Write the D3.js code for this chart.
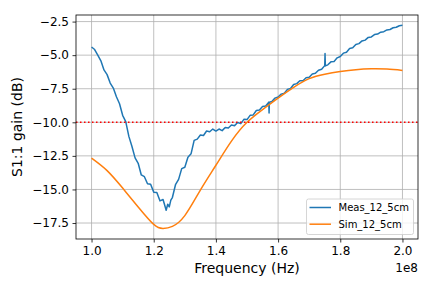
<!DOCTYPE html>
<html><head><meta charset="utf-8">
<script src="https://cdn.jsdelivr.net/npm/d3@7"></script>
<style>body{margin:0;background:#fff}svg{display:block;font-family:"DejaVu Sans",sans-serif}</style>
</head><body><svg id="c" width="432" height="288"></svg>
<script>
const xTicks = [1.0, 1.2, 1.4, 1.6, 1.8, 2.0];
const yTicks = [-17.5, -15.0, -12.5, -10.0, -7.5, -5.0, -2.5];
const threshold = -10;
const seriesNames = ["Meas_12_5cm", "Sim_12_5cm"];
const measFreq = [1.00,1.01,1.02,1.03,1.04,1.05,1.06,1.07,1.08,1.09,1.10,1.11,1.12,1.13,1.14,1.15,1.16,1.17,1.18,1.19,1.20,1.21,1.22,1.23,1.24,1.245,1.25,1.255,1.26,1.27,1.28,1.29,1.30,1.31,1.32,1.33,1.34,1.35,1.36,1.37,1.38,1.39,1.40,1.41,1.42,1.43,1.44,1.45,1.46,1.47,1.48,1.49,1.50,1.51,1.52,1.53,1.54,1.55,1.56,1.57,1.571,1.572,1.58,1.59,1.60,1.61,1.62,1.63,1.64,1.65,1.66,1.67,1.68,1.69,1.70,1.71,1.72,1.73,1.74,1.75,1.751,1.752,1.76,1.77,1.78,1.79,1.80,1.81,1.82,1.83,1.84,1.85,1.86,1.87,1.88,1.89,1.90,1.91,1.92,1.93,1.94,1.95,1.96,1.97,1.98,1.99,2.00];
const measGain = [-4.39,-4.58,-5.00,-5.42,-6.10,-6.45,-7.08,-7.45,-8.10,-8.62,-9.48,-9.95,-11.05,-11.80,-12.65,-13.05,-13.92,-14.05,-14.58,-14.62,-15.20,-15.22,-15.85,-15.75,-16.55,-16.10,-16.30,-15.80,-15.60,-14.65,-14.25,-13.45,-13.35,-12.60,-12.35,-11.35,-11.25,-10.95,-10.98,-10.65,-10.70,-10.50,-10.65,-10.50,-10.62,-10.38,-10.42,-10.20,-10.25,-10.02,-10.10,-9.78,-9.80,-9.48,-9.45,-9.12,-9.08,-8.82,-8.78,-8.50,-9.30,-8.50,-8.45,-8.20,-8.12,-7.90,-7.83,-7.55,-7.48,-7.18,-7.12,-6.90,-6.90,-6.68,-6.65,-6.40,-6.35,-6.12,-6.05,-5.78,-4.88,-5.80,-5.72,-5.50,-5.47,-5.20,-5.10,-4.85,-4.78,-4.50,-4.45,-4.20,-4.14,-3.94,-3.88,-3.68,-3.64,-3.47,-3.43,-3.29,-3.25,-3.12,-3.09,-2.96,-2.92,-2.81,-2.78];
const simFreq = [1.00,1.05,1.10,1.15,1.20,1.23,1.26,1.30,1.35,1.40,1.45,1.50,1.55,1.60,1.65,1.70,1.75,1.80,1.85,1.90,1.95,2.00];
const simGain = [-12.67,-13.60,-14.90,-16.30,-17.60,-17.90,-17.75,-16.95,-15.05,-13.20,-11.40,-10.00,-9.05,-8.20,-7.40,-6.75,-6.42,-6.22,-6.08,-6.02,-6.04,-6.14];

const colors = ["#1f77b4", "#ff7f0e"];
const svg = d3.select("#c");
const m = {l: 76, r: 418, t: 15, b: 239};
const x = d3.scaleLinear().domain([0.95, 2.05]).range([m.l, m.r]);
const y = d3.scaleLinear().domain([-18.69, -2.01]).range([m.b, m.t]);

// grid
svg.append("g").selectAll("line").data(xTicks).join("line")
  .attr("x1", d => x(d)).attr("x2", d => x(d)).attr("y1", m.t).attr("y2", m.b)
  .attr("stroke", "#b0b0b0").attr("stroke-width", 0.8);
svg.append("g").selectAll("line").data(yTicks).join("line")
  .attr("y1", d => y(d)).attr("y2", d => y(d)).attr("x1", m.l).attr("x2", m.r)
  .attr("stroke", "#b0b0b0").attr("stroke-width", 0.8);

// axes
const xAxis = svg.append("g").attr("transform", `translate(0,${m.b})`)
  .call(d3.axisBottom(x).tickValues(xTicks).tickFormat(d3.format(".1f")).tickSize(3.5).tickPadding(3.5));
const yAxis = svg.append("g").attr("transform", `translate(${m.l},0)`)
  .call(d3.axisLeft(y).tickValues(yTicks).tickFormat(d3.format(".1f")).tickSize(3.5).tickPadding(3.5));
[xAxis, yAxis].forEach(a => {
  a.select(".domain").remove();
  a.selectAll(".tick line").attr("stroke", "#000").attr("stroke-width", 0.8);
  a.selectAll(".tick text").attr("fill", "#000").style("font-size", "12px").style("font-family", "DejaVu Sans");
});

const clip = svg.append("clipPath").attr("id", "clp").append("rect")
  .attr("x", m.l).attr("y", m.t).attr("width", m.r - m.l).attr("height", m.b - m.t);

const line = d3.line().x(d => x(d[0])).y(d => y(d[1]));
const plot = svg.append("g").attr("clip-path", "url(#clp)");
plot.append("path").datum(measFreq.map((f, i) => [f, measGain[i]]))
  .attr("d", line).attr("fill", "none").attr("stroke", colors[0]).attr("stroke-width", 1.5).attr("stroke-linejoin", "round");
plot.append("path").datum(simFreq.map((f, i) => [f, simGain[i]]))
  .attr("d", line.curve(d3.curveNatural)).attr("fill", "none").attr("stroke", colors[1]).attr("stroke-width", 1.5);
plot.append("line").attr("x1", m.l).attr("x2", m.r).attr("y1", y(threshold)).attr("y2", y(threshold))
  .attr("stroke", "red").attr("stroke-width", 1.5).attr("stroke-dasharray", "1.5,2.5");

// frame
svg.append("rect").attr("x", m.l).attr("y", m.t).attr("width", m.r - m.l).attr("height", m.b - m.t)
  .attr("fill", "none").attr("stroke", "#000").attr("stroke-width", 0.8);

// labels
svg.append("text").attr("x", (m.l + m.r) / 2).attr("y", 273).attr("text-anchor", "middle")
  .style("font-size", "14px").text("Frequency (Hz)");
svg.append("text").attr("transform", `translate(22,${(m.t + m.b) / 2}) rotate(-90)`).attr("text-anchor", "middle")
  .style("font-size", "14px").text("S1:1 gain (dB)");
svg.append("text").attr("x", m.r).attr("y", 272).attr("text-anchor", "end").style("font-size", "12px").text("1e8");

// legend
const lg = svg.append("g");
lg.append("rect").attr("x", 306.5).attr("y", 199).attr("width", 107).attr("height", 35.5).attr("rx", 2)
  .attr("fill", "#fff").attr("fill-opacity", 0.8).attr("stroke", "#cccccc").attr("stroke-width", 0.8);
seriesNames.forEach((n, i) => {
  const yy = 207.5 + i * 16.7;
  lg.append("line").attr("x1", 309.5).attr("x2", 331).attr("y1", yy).attr("y2", yy)
    .attr("stroke", colors[i]).attr("stroke-width", 1.5);
  lg.append("text").attr("x", 338.5).attr("y", yy + 3.6).style("font-size", "10px").text(n);
});
</script></body></html>
